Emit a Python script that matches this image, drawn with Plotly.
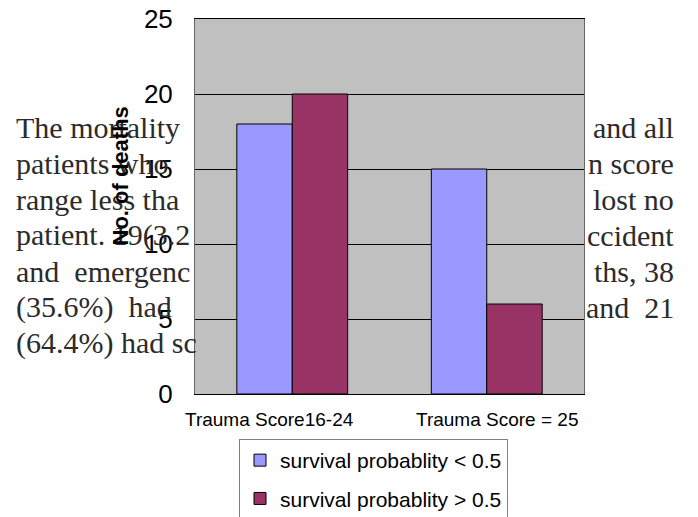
import plotly.graph_objects as go

# ---- data ----
categories = ["Trauma Score16-24", "Trauma Score = 25"]
series_names = ["survival probablity < 0.5", "survival probablity > 0.5"]
deaths_low = [18, 15]
deaths_high = [20, 6]
series_colors = ["#9999FF", "#993366"]
y_ticks = [0, 5, 10, 15, 20, 25]

# background document text fragments (visible around the chart)
left_text = ["The mortality", "patients who", "range less tha", "patient. 19(3.2",
             "and  emergenc", "(35.6%)  had", "(64.4%) had sc"]
right_text = ["and all", "n score", "lost no", "ccident", "ths, 38", "and  21"]

W, H = 698, 517
OFF = 8  # page offset of the figure inside the browser window
L, R, T, B = 195 - OFF, 584 - OFF, 19 - OFF, 394 - OFF

fig = go.Figure()
for name, vals, col in zip(series_names, [deaths_low, deaths_high], series_colors):
    fig.add_trace(go.Bar(
        x=categories, y=vals, name=name, legendgroup=name,
        marker=dict(color=col, line=dict(color="#000000", width=1)),
    ))

def px_x(p):
    return (p - OFF - L) / (R - L)

def px_y(p):
    return (B - (p - OFF)) / (B - T)

annotations = []
# paragraph text fragments
line_y0, line_step = 127, 36
for i, t in enumerate(left_text):
    annotations.append(dict(
        text=t, xref="paper", yref="paper", x=px_x(14), y=px_y(line_y0 + i * line_step),
        xanchor="left", yanchor="middle", showarrow=False,
        font=dict(family="Liberation Serif", size=30, color="#2b2b2b")))
for i, t in enumerate(right_text):
    annotations.append(dict(
        text=t, xref="paper", yref="paper", x=px_x(676), y=px_y(line_y0 + i * line_step),
        xanchor="right", yanchor="middle", showarrow=False,
        font=dict(family="Liberation Serif", size=30, color="#2b2b2b")))

# y axis title
annotations.append(dict(
    text="<b>No. of deaths</b>", xref="paper", yref="paper", x=px_x(119.5), y=px_y(176),
    textangle=-90, xanchor="center", yanchor="middle", showarrow=False,
    font=dict(family="Arial, Liberation Sans", size=22, color="#000000")))

# category labels
for cat, shift in zip(categories, [-23, 10]):
    annotations.append(dict(
        text=cat, xref="x", yref="paper", x=cat, y=px_y(419), xshift=shift,
        xanchor="center", yanchor="middle", showarrow=False,
        font=dict(family="Arial, Liberation Sans", size=19, color="#000000")))

fig.update_layout(
    width=W, height=H,
    margin=dict(l=L, r=W - R, t=T, b=H - B, pad=0, autoexpand=False),
    paper_bgcolor="#FFFFFF", plot_bgcolor="#C0C0C0",
    barmode="group", bargap=0.43, bargroupgap=0,
    font=dict(family="Arial, Liberation Sans", color="#000000"),
    showlegend=True,
    legend=dict(
        x=px_x(239), y=px_y(439), xanchor="left", yanchor="top",
        bgcolor="#FFFFFF", bordercolor="#808080", borderwidth=1,
        font=dict(family="Arial, Liberation Sans", size=21, color="#000000"),
        tracegroupgap=8, traceorder="grouped",
    ),
    annotations=annotations,
)
fig.update_xaxes(
    type="category", categoryorder="array", categoryarray=categories,
    range=[-0.5, 1.5],
    showticklabels=False, ticks="", showgrid=False,
    showline=True, linecolor="#000000", linewidth=1, mirror=True,
)
fig.update_yaxes(
    range=[0, 25], tickvals=y_ticks, ticks="", ticklabelstandoff=16,
    ticklabeloverflow="allow",
    tickfont=dict(family="Arial, Liberation Sans", size=26, color="#000000"),
    showgrid=True, gridcolor="#000000", gridwidth=1, zeroline=False,
    showline=True, linecolor="#666666", linewidth=1, mirror=True,
)

fig.write_html("out.html")
